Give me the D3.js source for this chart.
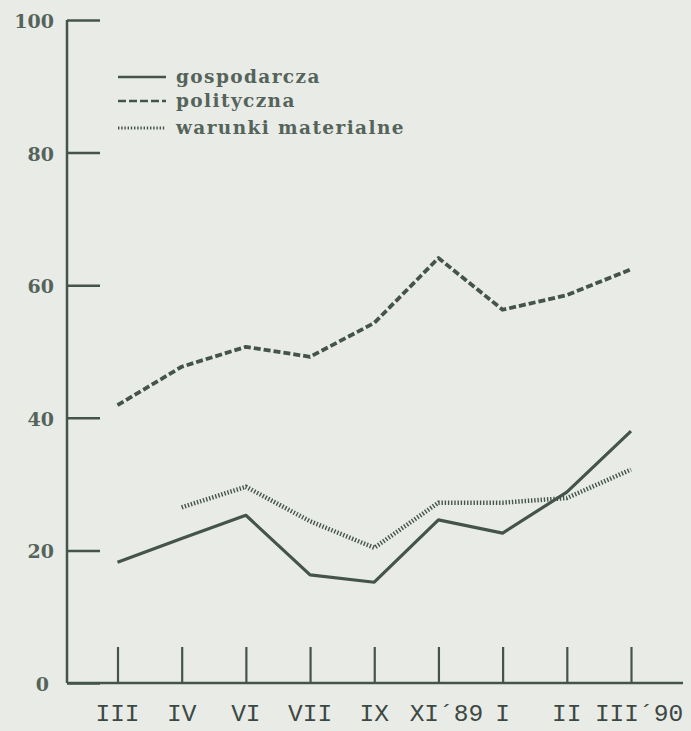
<!DOCTYPE html>
<html><head><meta charset="utf-8">
<script src="https://cdn.jsdelivr.net/npm/d3@7"></script>
<style>
html,body{margin:0;padding:0;background:#e9ebe7;}
svg{display:block;}
</style></head>
<body>
<svg id="chart" width="691" height="731"></svg>
<script>
const categories = ["III", "IV", "VI", "VII", "IX", "XI\u00b489", "I", "II", "III\u00b490"];
const gospodarcza = [18.2, 21.8, 25.3, 16.3, 15.2, 24.6, 22.6, 28.8, 38.0];
const polityczna = [41.9, 47.7, 50.7, 49.2, 54.3, 64.1, 56.3, 58.5, 62.4];
const warunkiMaterialne = [null, 26.5, 29.6, 24.4, 20.4, 27.2, 27.2, 27.9, 32.2];
const yTicks = [0, 20, 40, 60, 80, 100];
const seriesNames = ["gospodarcza", "polityczna", "warunki materialne"];

const ink = "#45544b";
const svg = d3.select("#chart");

const x = d3.scalePoint().domain(categories).range([117.5, 631]);
const y = d3.scaleLinear().domain([0, 100]).range([683, 20]);

// Y axis (ticks pointing inward)
const yAxis = d3.axisRight(y).tickValues(yTicks).tickSize(33).tickFormat("");
const gy = svg.append("g").attr("transform", "translate(67,0)").call(yAxis);
gy.select(".domain").attr("stroke", ink).attr("stroke-width", 2.5).attr("d", "M0,20V683");
gy.selectAll(".tick line").attr("stroke", ink).attr("stroke-width", 2.5);

svg.append("g").selectAll("text").data(yTicks).join("text")
  .attr("x", d => d === 0 ? 49 : 54).attr("y", d => y(d) + 8)
  .attr("text-anchor", "end")
  .attr("font-family", "DejaVu Serif").attr("font-weight", "bold")
  .attr("font-size", 19).attr("fill", "#55645a")
  .text(d => d);

// X axis (ticks pointing up)
const xAxis = d3.axisTop(x).tickSize(36).tickFormat("");
const gx = svg.append("g").attr("transform", "translate(0,683)").call(xAxis);
gx.select(".domain").attr("stroke", ink).attr("stroke-width", 2.5).attr("d", "M67,0H683");
gx.selectAll(".tick line").attr("stroke", ink).attr("stroke-width", 2.2);

svg.append("g").selectAll("text").data(categories).join("text")
  .attr("x", d => x(d) + (d.length > 3 ? 8 : 0)).attr("y", 721)
  .attr("text-anchor", "middle")
  .attr("font-family", "Liberation Mono").attr("font-size", 24.5).attr("fill", "#3c4842")
  .text(d => d);

// Lines
const line = d3.line()
  .defined(d => d.v != null)
  .x(d => x(d.c)).y(d => y(d.v));
const toPts = arr => categories.map((c, i) => ({c, v: arr[i]}));

const styles = [
  {data: gospodarcza, width: 3.2, dash: null},
  {data: polityczna, width: 3.8, dash: "7,3"},
  {data: warunkiMaterialne, width: 4.5, dash: "1.4,1.8"}
];
styles.forEach(s => {
  svg.append("path").datum(toPts(s.data))
    .attr("d", line).attr("fill", "none")
    .attr("stroke", ink).attr("stroke-width", s.width)
    .attr("stroke-linejoin", "round")
    .attr("stroke-dasharray", s.dash);
});

// Legend
const leg = svg.append("g");
const legY = [77, 101, 128];
seriesNames.forEach((n, i) => {
  leg.append("line").attr("x1", 118).attr("x2", 166).attr("y1", legY[i]).attr("y2", legY[i])
    .attr("stroke", ink).attr("stroke-width", i === 2 ? 3 : 2.6)
    .attr("stroke-dasharray", i === 0 ? null : (i === 1 ? "8,3" : "1.4,1.8"));
  leg.append("text").attr("x", 176).attr("y", legY[i] + 6)
    .attr("font-family", "DejaVu Serif").attr("font-weight", "bold")
    .attr("font-size", 18.5).attr("letter-spacing", 1.4).attr("fill", "#55645a")
    .text(n);
});
</script>
</body></html>
